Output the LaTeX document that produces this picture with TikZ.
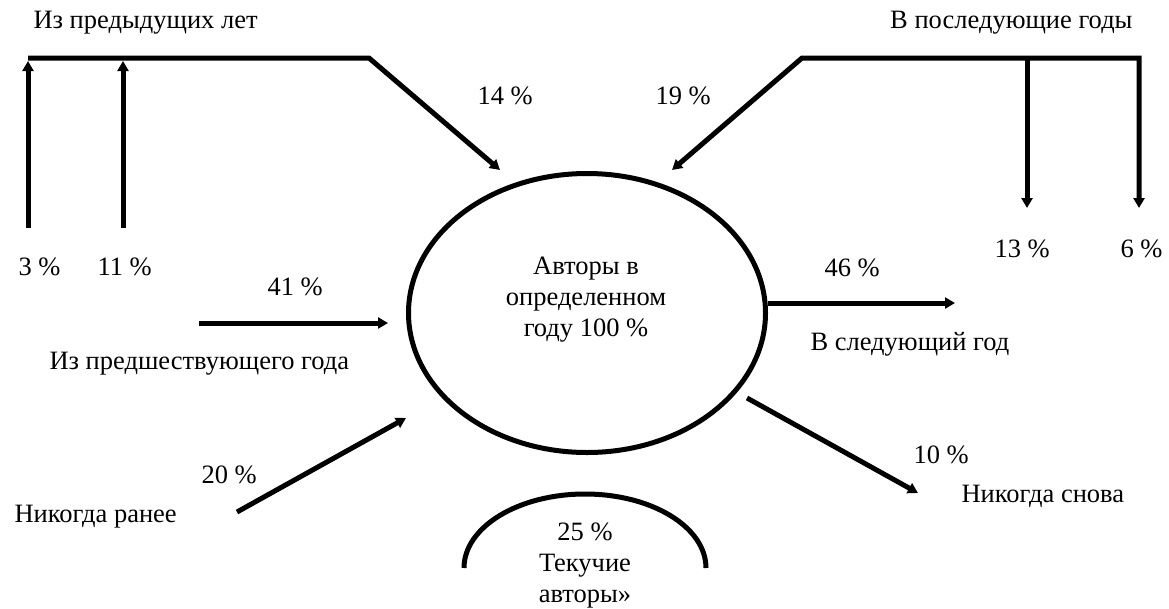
\documentclass[tikz,border=0pt]{standalone}
\usepackage{fontspec}
\setmainfont{Liberation Serif}
\usetikzlibrary{arrows.meta,shapes.geometric,positioning}

\begin{document}
\begin{tikzpicture}[x=1pt,y=-1pt,line width=5pt,
  txt/.style={inner sep=0pt,font=\fontsize{26.5}{31}\selectfont,align=center},
  flow/.style={-{Triangle[length=10pt,width=11pt]}},
  twoway/.style={{Triangle[length=10pt,width=11pt]}-{Triangle[length=10pt,width=11pt]}}]
\useasboundingbox (0,0) rectangle (1169,608);
% central ellipse
\node[ellipse,draw,minimum width=357pt,minimum height=279pt] (core) at (587,313) {};
\node[txt] (coretxt) at (586,300) {Авторы в\\определенном\\году 100 \%};
% labels
\node[txt,anchor=base west] (prevyears) at (31,28) {Из предыдущих лет};
\node[txt,anchor=base east] (nextyears) at (1135,28) {В последующие годы};
\node[txt,anchor=base west] (p14) at (475,104) {14 \%};\node[txt,anchor=base west] (p19) at (653,104) {19 \%};
\node[txt,anchor=base west] (p3) at (16,275) {3 \%};\node[txt,anchor=base west] (p11) at (95,275) {11 \%};
\node[txt,anchor=base west] (p13) at (992,257) {13 \%};\node[txt,anchor=base west] (p6) at (1118,257) {6 \%};
\node[txt,anchor=base west] (p46) at (822,276) {46 \%};\node[txt,anchor=base west] (p41) at (265,295) {41 \%};
\node[txt,anchor=base west] (nextyear) at (808,350) {В следующий год};
\node[txt,anchor=base west] (prevyear) at (47,369) {Из предшествующего года};
\node[txt,anchor=base west] (p10) at (911,463) {10 \%};\node[txt,anchor=base west] (p20) at (199,483) {20 \%};
\node[txt,anchor=base west] (neverbefore) at (12,522) {Никогда ранее};
\node[txt,anchor=base west] (neveragain) at (959,502) {Никогда снова};
\node[txt] (fluid) at (585,565) {25 \%\\Текучие\\авторы»};
% left bracket
\coordinate (lb1) at (28,58);\coordinate (lb2) at (369,58);\coordinate (in14) at (500,170);
\coordinate (s3) at (28,228);\coordinate (t3) at (28,61);\coordinate (s11) at (123,228);\coordinate (t11) at (123,61);
\draw[flow] (lb1)--(lb2)--(in14);\draw[flow] (s3)--(t3);\draw[flow] (s11)--(t11);
% right bracket
\coordinate (rb1) at (802,58);\coordinate (rb2) at (1139,58);\coordinate (in19) at (672,170);
\coordinate (e6) at (1139,208);\coordinate (rb13) at (1027,58);\coordinate (e13) at (1027,208);
\draw[twoway] (in19)--(rb1)--(rb2)--(e6);\draw[flow] (rb13)--(e13);
% side arrows
\coordinate (s41) at (199,323);\coordinate (in41) at (388,323);\draw[flow] (s41)--(in41);
\coordinate (s46) at (768,303);\coordinate (e46) at (955,303);\draw[flow] (s46)--(e46);
\coordinate (s10) at (747,398);\coordinate (e10) at (918,493);\draw[flow] (s10)--(e10);
\coordinate (s20) at (237,512);\coordinate (in20) at (406,418);\draw[flow] (s20)--(in20);
% bottom arc
\coordinate (arcl) at (464,568);
\draw (arcl) arc[start angle=180,end angle=360,x radius=121,y radius=74];
\end{tikzpicture}
\end{document}
